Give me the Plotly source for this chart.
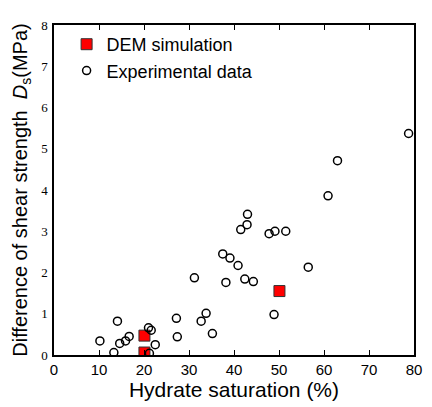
import plotly.graph_objects as go

# DEM simulation results
dem_x = [20.1, 20.1, 50.1]
dem_y = [0.47, 0.06, 1.55]

# Experimental data
exp_x = [10.2, 13.3, 14.1, 14.6, 15.9, 16.7, 21.0, 21.6, 22.5, 21.2, 27.2, 27.4,
         31.2, 32.7, 33.8, 35.2, 37.5, 38.2, 39.1, 40.9, 41.5, 42.4, 42.9, 43.0,
         44.3, 47.8, 48.9, 49.1, 51.5, 56.5, 60.9, 63.0, 78.8]
exp_y = [0.34, 0.06, 0.82, 0.28, 0.34, 0.45, 0.66, 0.60, 0.25, 0.04, 0.89, 0.44,
         1.87, 0.82, 1.01, 0.52, 2.45, 1.76, 2.35, 2.17, 3.04, 1.84, 3.16, 3.41,
         1.78, 2.94, 0.98, 3.00, 3.00, 2.13, 3.86, 4.71, 5.37]

x_ticks = [0, 10, 20, 30, 40, 50, 60, 70, 80]
y_ticks = [0, 1, 2, 3, 4, 5, 6, 7, 8]

fig = go.Figure()
fig.add_trace(go.Scatter(
    x=dem_x, y=dem_y, mode="markers", name="DEM simulation",
    marker=dict(symbol="square", size=11, color="#ff0000",
                line=dict(color="#333333", width=1)),
))
fig.add_trace(go.Scatter(
    x=exp_x, y=exp_y, mode="markers", name="Experimental data",
    marker=dict(symbol="circle-open", size=8, color="black",
                line=dict(color="black", width=1.5)),
))

fig.update_layout(
    width=432, height=407,
    margin=dict(l=54, r=10, t=25, b=42),
    plot_bgcolor="white", paper_bgcolor="white",
    showlegend=True,
    legend=dict(x=0.035, y=0.997, xanchor="left", yanchor="top",
                font=dict(family="Liberation Sans, Arial", size=18, color="black"),
                bgcolor="rgba(0,0,0,0)", tracegroupgap=0, itemwidth=30),
    xaxis=dict(range=[0, 80], tickvals=x_ticks, ticktext=[str(v) for v in x_ticks],
               ticks="inside", ticklen=5, tickwidth=1, tickcolor="black",
               showline=True, linecolor="black", linewidth=1.5, mirror="ticks",
               showgrid=False, zeroline=False,
               tickfont=dict(family="Liberation Sans, Arial", size=15, color="black"),
               title=dict(text="Hydrate saturation (%)", standoff=5,
                          font=dict(family="Liberation Sans, Arial", size=21, color="black"))),
    yaxis=dict(range=[0, 8], tickvals=y_ticks, ticktext=[str(v) for v in y_ticks],
               ticks="", showline=True, linecolor="black", linewidth=1.5, mirror=True,
               showgrid=False, zeroline=False, ticklabelstandoff=2,
               tickfont=dict(family="Liberation Serif, Times New Roman", size=13, color="black"),
               title=dict(text="Difference of shear strength  <i>D</i><sub>s</sub>(MPa)", standoff=8,
                          font=dict(family="Liberation Sans, Arial", size=20, color="black"))),
)

fig.write_html("out.html")
